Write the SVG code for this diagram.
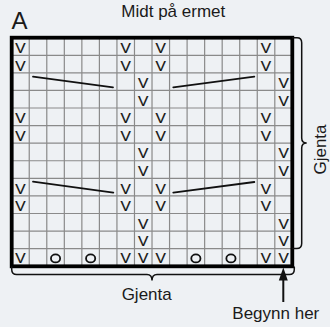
<svg xmlns="http://www.w3.org/2000/svg" width="330" height="327" viewBox="0 0 330 327">
<style>
.t{font-family:"Liberation Sans",Arial,sans-serif;fill:#1a1a1a}
.lbl{font-size:17px}
.v{font-family:"Liberation Sans",Arial,sans-serif;font-size:15.5px;text-anchor:middle;fill:#111;stroke:#111;stroke-width:0.2}
.grid{stroke:#8a8a8a;stroke-width:1.2;fill:none}
.dec{stroke:#111;stroke-width:1.8;fill:none;stroke-linecap:round}
.br{stroke:#111;stroke-width:1.5;fill:none}
.o{stroke:#111;stroke-width:1.8;fill:none}
</style>
<rect width="330" height="327" fill="#eef1f4"/>
<g id="title">
<text class="t" x="11.5" y="29.3" style="font-size:24px">A</text>
<text class="t lbl" x="173.3" y="16.7" text-anchor="middle">Midt på ermet</text>
</g>
<g id="chart">
<path class="grid" d="M29.24,37.7V266.3M46.78,37.7V266.3M64.32,37.7V266.3M81.86,37.7V266.3M99.4,37.7V266.3M116.94,37.7V266.3M134.48,37.7V266.3M152.02,37.7V266.3M169.56,37.7V266.3M187.1,37.7V266.3M204.64,37.7V266.3M222.18,37.7V266.3M239.72,37.7V266.3M257.26,37.7V266.3M274.8,37.7V266.3
M11.7,55.28H292.3M11.7,72.86H292.3M11.7,90.44H292.3M11.7,108.02H292.3M11.7,125.6H292.3M11.7,143.18H292.3M11.7,160.76H292.3M11.7,178.34H292.3M11.7,195.92H292.3M11.7,213.5H292.3M11.7,231.08H292.3M11.7,248.66H292.3"/>
<rect x="11.7" y="37.7" width="280.6" height="228.6" fill="none" stroke="#000" stroke-width="3.8"/>
<g id="decreases">
<line class="dec" x1="33" y1="76.7" x2="113" y2="87.3"/>
<line class="dec" x1="173.3" y1="87.3" x2="254.3" y2="76.7"/>
<line class="dec" x1="33" y1="181.7" x2="113.3" y2="192.7"/>
<line class="dec" x1="173.3" y1="192.7" x2="254.3" y2="182"/>
</g>
<g id="symbols">
<text class="v" x="20.47" y="53">V</text><text class="v" x="125.71" y="53">V</text><text class="v" x="160.79" y="53">V</text><text class="v" x="266.03" y="53">V</text>
<text class="v" x="20.47" y="70.58">V</text><text class="v" x="125.71" y="70.58">V</text><text class="v" x="160.79" y="70.58">V</text><text class="v" x="266.03" y="70.58">V</text>
<text class="v" x="143.25" y="88.16">V</text><text class="v" x="283.57" y="88.16">V</text>
<text class="v" x="143.25" y="105.74">V</text><text class="v" x="283.57" y="105.74">V</text>
<text class="v" x="20.47" y="123.32">V</text><text class="v" x="125.71" y="123.32">V</text><text class="v" x="160.79" y="123.32">V</text><text class="v" x="266.03" y="123.32">V</text>
<text class="v" x="20.47" y="140.9">V</text><text class="v" x="125.71" y="140.9">V</text><text class="v" x="160.79" y="140.9">V</text><text class="v" x="266.03" y="140.9">V</text>
<text class="v" x="143.25" y="158.48">V</text><text class="v" x="283.57" y="158.48">V</text>
<text class="v" x="143.25" y="176.06">V</text><text class="v" x="283.57" y="176.06">V</text>
<text class="v" x="20.47" y="193.64">V</text><text class="v" x="125.71" y="193.64">V</text><text class="v" x="160.79" y="193.64">V</text><text class="v" x="266.03" y="193.64">V</text>
<text class="v" x="20.47" y="211.22">V</text><text class="v" x="125.71" y="211.22">V</text><text class="v" x="160.79" y="211.22">V</text><text class="v" x="266.03" y="211.22">V</text>
<text class="v" x="143.25" y="228.8">V</text><text class="v" x="283.57" y="228.8">V</text>
<text class="v" x="143.25" y="246.38">V</text><text class="v" x="283.57" y="246.38">V</text>
<text class="v" x="20.47" y="263.4">V</text><text class="v" x="125.71" y="263.4">V</text><text class="v" x="143.25" y="263.4">V</text><text class="v" x="160.79" y="263.4">V</text><text class="v" x="266.03" y="263.4">V</text><text class="v" x="283.57" y="263.4">V</text>
</g>
<g id="yarnovers">
<ellipse class="o" cx="55.55" cy="258.4" rx="4.6" ry="4"/>
<ellipse class="o" cx="90.63" cy="258.4" rx="4.6" ry="4"/>
<ellipse class="o" cx="195.87" cy="258.4" rx="4.6" ry="4"/>
<ellipse class="o" cx="230.95" cy="258.4" rx="4.6" ry="4"/>
</g>
</g>
<g id="connectors">
<path class="br" d="M292,37.7H297Q301.7,37.7 301.7,42.7V138Q301.7,143 306.7,143Q301.7,143 301.7,148V243.5Q301.7,248.5 296.7,248.5H292"/>
<path class="br" d="M11.7,266.5V269.5Q11.7,274.5 16.7,274.5H147Q152,274.5 152,280.5Q152,274.5 157,274.5H289.3Q294.3,274.5 294.3,269.5V266.5"/>
<line x1="283.3" y1="302" x2="283.3" y2="278" stroke="#111" stroke-width="2"/>
<polygon points="283.3,267.5 278.8,280.5 287.8,280.5" fill="#111"/>
</g>
<g id="labels">
<text class="t lbl" x="146.7" y="300" text-anchor="middle">Gjenta</text>
<text class="t lbl" x="275.8" y="319.3" text-anchor="middle">Begynn her</text>
<text class="t lbl" transform="translate(325.5,149.5) rotate(-90)" text-anchor="middle">Gjenta</text>
</g>
</svg>
